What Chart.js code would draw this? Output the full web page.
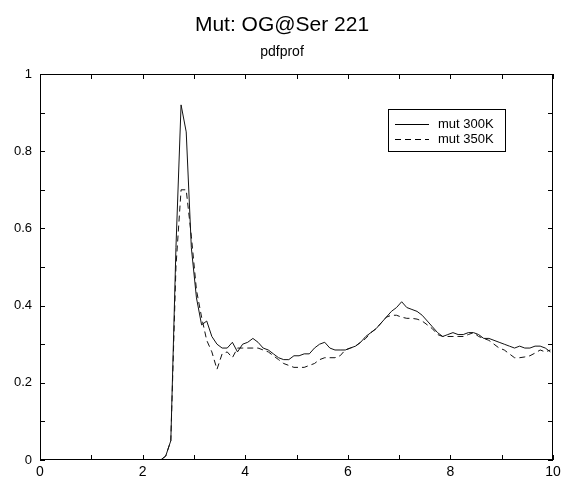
<!DOCTYPE html>
<html>
<head>
<meta charset="utf-8">
<script src="https://cdn.jsdelivr.net/npm/chart.js@4/dist/chart.umd.min.js"></script>
<style>
  html, body { margin: 0; padding: 0; background: #fff; }
  #wrap { width: 564px; height: 477px; }
</style>
</head>
<body>
<div id="wrap"><canvas id="pdf"></canvas></div>
<script>
// bin centres (r) and the two profiles
var rValues = [];
for (var i = 0; i < 100; i++) rValues.push(+(0.05 + i * 0.1).toFixed(2));

var mut300 = [
  0, 0, 0, 0, 0, 0, 0, 0, 0, 0,
  0, 0, 0, 0, 0, 0, 0, 0, 0, 0,
  0, 0, 0, 0, 0.01, 0.05, 0.55, 0.92, 0.85, 0.55,
  0.42, 0.35, 0.36, 0.32, 0.30, 0.29, 0.29, 0.305, 0.28, 0.30,
  0.305, 0.315, 0.305, 0.29, 0.285, 0.275, 0.265, 0.26, 0.26, 0.27,
  0.27, 0.275, 0.275, 0.29, 0.30, 0.305, 0.29, 0.285, 0.285, 0.285,
  0.29, 0.295, 0.305, 0.32, 0.33, 0.34, 0.355, 0.37, 0.385, 0.395,
  0.41, 0.395, 0.39, 0.385, 0.375, 0.36, 0.345, 0.33, 0.32, 0.325,
  0.33, 0.325, 0.325, 0.33, 0.33, 0.325, 0.315, 0.315, 0.31, 0.305,
  0.30, 0.295, 0.29, 0.295, 0.29, 0.29, 0.295, 0.295, 0.29, 0.28
];

var mut350 = [
  0, 0, 0, 0, 0, 0, 0, 0, 0, 0,
  0, 0, 0, 0, 0, 0, 0, 0, 0, 0,
  0, 0, 0, 0, 0.01, 0.05, 0.50, 0.70, 0.70, 0.58,
  0.44, 0.37, 0.31, 0.28, 0.235, 0.275, 0.28, 0.265, 0.29, 0.29,
  0.29, 0.29, 0.29, 0.285, 0.28, 0.27, 0.26, 0.25, 0.245, 0.24,
  0.24, 0.24, 0.245, 0.25, 0.26, 0.265, 0.265, 0.265, 0.27, 0.285,
  0.29, 0.295, 0.305, 0.315, 0.33, 0.34, 0.355, 0.37, 0.375, 0.375,
  0.37, 0.367, 0.367, 0.365, 0.36, 0.35, 0.34, 0.325, 0.32, 0.32,
  0.32, 0.32, 0.32, 0.325, 0.33, 0.32, 0.315, 0.31, 0.30, 0.29,
  0.285, 0.275, 0.265, 0.265, 0.267, 0.27, 0.277, 0.285, 0.28, 0.285
];

var seriesNames = ['mut 300K', 'mut 350K'];

function toPoints(ys) {
  return ys.map(function(y, i) { return { x: rValues[i], y: y }; });
}

var FONT = '"Liberation Sans", Arial, Helvetica, sans-serif';

// frame, inward ticks and the boxed legend
var framePlugin = {
  id: 'frame',
  afterDatasetsDraw: function(chart) {
    var ctx = chart.ctx, a = chart.chartArea;
    var xs = chart.scales.x, ys = chart.scales.y;
    ctx.save();
    ctx.strokeStyle = '#000';
    ctx.lineWidth = 1;
    ctx.strokeRect(a.left + 0.5, a.top + 0.5, a.right - a.left - 1, a.bottom - a.top - 1);
    ctx.beginPath();
    for (var v = 0; v <= 10; v++) {
      var px = Math.round(xs.getPixelForValue(v)) + 0.5;
      ctx.moveTo(px, a.bottom); ctx.lineTo(px, a.bottom - 5);
      ctx.moveTo(px, a.top); ctx.lineTo(px, a.top + 5);
    }
    for (var k = 0; k <= 10; k++) {
      var py = Math.round(ys.getPixelForValue(k / 10)) + 0.5;
      ctx.moveTo(a.left, py); ctx.lineTo(a.left + 5, py);
      ctx.moveTo(a.right, py); ctx.lineTo(a.right - 5, py);
    }
    ctx.stroke();

    // legend box
    var bx = 388, by = 109, bw = 117, bh = 42;
    ctx.strokeRect(bx + 0.5, by + 0.5, bw, bh);
    ctx.font = '13px ' + FONT;
    ctx.fillStyle = '#000';
    ctx.textBaseline = 'middle';
    chart.data.datasets.forEach(function(ds, i) {
      var ly = by + 15 + i * 15 + 0.5;
      ctx.beginPath();
      ctx.setLineDash(ds.borderDash || []);
      ctx.moveTo(bx + 7, ly); ctx.lineTo(bx + 41, ly);
      ctx.stroke();
      ctx.setLineDash([]);
      ctx.fillText(ds.label, bx + 50, ly);
    });
    ctx.restore();
  }
};

new Chart(document.getElementById('pdf'), {
  type: 'line',
  data: {
    datasets: [{
      label: seriesNames[0],
      data: toPoints(mut300),
      borderColor: '#111',
      borderWidth: 1,
      pointRadius: 0,
      tension: 0,
      fill: false
    }, {
      label: seriesNames[1],
      data: toPoints(mut350),
      borderColor: '#111',
      borderWidth: 1,
      borderDash: [6, 4],
      pointRadius: 0,
      tension: 0,
      fill: false
    }]
  },
  options: {
    responsive: true,
    maintainAspectRatio: false,
    animation: false,
    layout: { padding: 0 },
    plugins: {
      legend: { display: false },
      tooltip: { enabled: false },
      title: {
        display: true,
        text: 'Mut: OG@Ser 221',
        color: '#000',
        font: { family: FONT, size: 21, weight: 'normal' },
        padding: { top: 13, bottom: 0 }
      },
      subtitle: {
        display: true,
        text: 'pdfprof',
        color: '#000',
        font: { family: FONT, size: 14, weight: 'normal' },
        padding: { top: 6, bottom: 13 }
      }
    },
    scales: {
      x: {
        type: 'linear',
        min: 0,
        max: 10,
        grid: { display: false, drawTicks: false, tickLength: 0 },
        border: { display: false },
        ticks: {
          stepSize: 2,
          color: '#000',
          padding: 4,
          maxRotation: 0,
          font: { family: FONT, size: 14 }
        },
        afterFit: function(scale) {
          scale.height = 17;
          scale.paddingRight = 11;
        }
      },
      y: {
        min: 0,
        max: 1,
        grid: { display: false, drawTicks: false, tickLength: 0 },
        border: { display: false },
        ticks: {
          stepSize: 0.2,
          color: '#000',
          padding: 8,
          font: { family: FONT, size: 13 },
          callback: function(v) { return String(+v.toFixed(1)); }
        },
        afterFit: function(scale) { scale.width = 40; }
      }
    }
  },
  plugins: [framePlugin]
});
</script>
</body>
</html>
